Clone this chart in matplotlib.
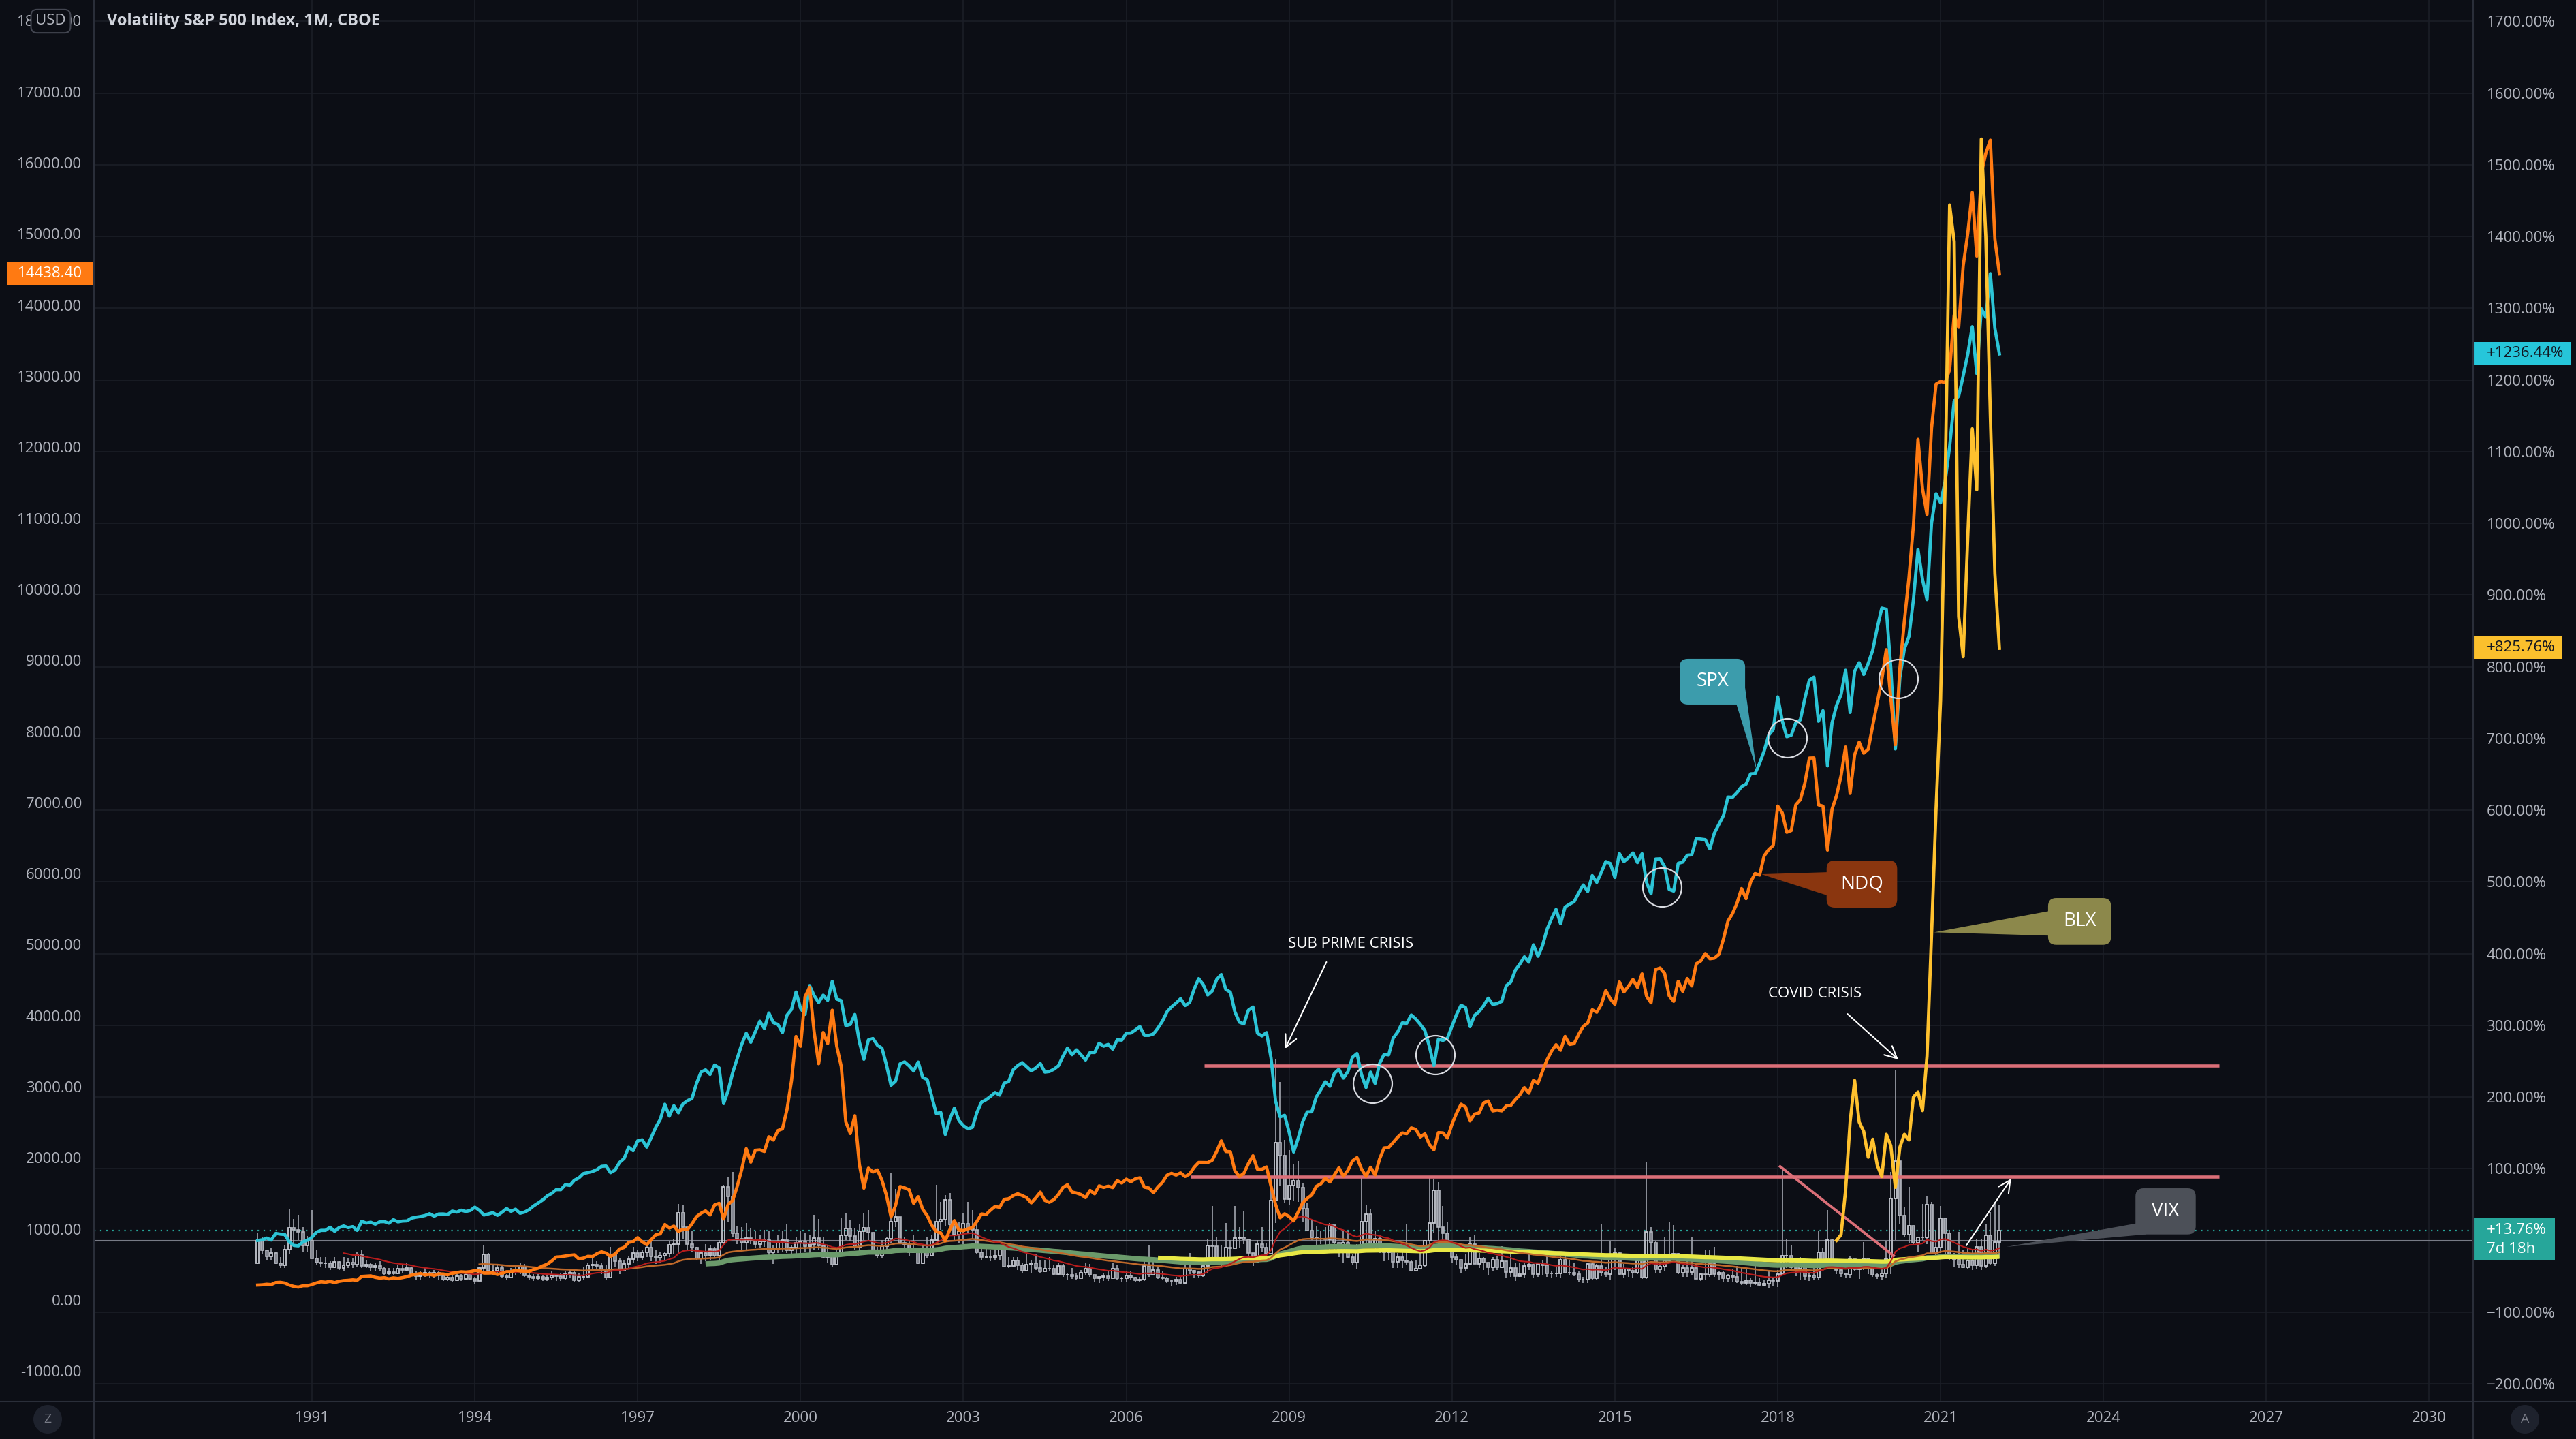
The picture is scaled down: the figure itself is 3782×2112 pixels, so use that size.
import numpy as np
import matplotlib
matplotlib.use("Agg")
import matplotlib.pyplot as plt
from matplotlib.patches import FancyBboxPatch, Polygon, Rectangle, Ellipse
from matplotlib.lines import Line2D
from matplotlib.transforms import blended_transform_factory

plt.rcParams['font.family'] = ['Open Sans', 'DejaVu Sans']

# ---- monthly data, Jan 1990 .. Feb 2022 ----
vix_first_open = 17.24
vix_close = [
    25.36, 21.99, 19.73, 21.00, 17.37, 16.66, 22.16, 29.90, 29.11, 28.37, 23.49, 25.16,
    19.08, 17.58, 17.22, 17.29, 15.76, 17.75, 15.69, 16.66, 17.55, 16.88, 20.08, 16.24,
    16.92, 15.87, 16.27, 15.43, 13.75, 14.12, 13.74, 15.36, 14.96, 15.66, 13.45, 12.62,
    13.33, 13.82, 13.10, 13.87, 12.93, 11.55, 12.14, 11.38, 12.81, 11.79, 13.09, 11.73,
    11.13, 15.66, 20.37, 14.60, 14.68, 15.59, 12.60, 12.31, 14.47, 14.58, 16.01, 12.99,
    12.39, 12.10, 12.55, 11.82, 12.30, 12.90, 12.64, 12.06, 13.37, 13.89, 11.28, 12.52,
    12.53, 16.46, 16.89, 16.37, 14.76, 12.30, 20.35, 18.11, 14.59, 17.03, 18.65, 20.92,
    19.45, 21.04, 22.93, 19.73, 19.25, 19.92, 20.78, 23.91, 23.98, 35.09, 29.98, 24.01,
    22.77, 19.03, 20.81, 19.98, 22.41, 19.93, 24.58, 44.28, 40.95, 28.00, 26.01, 24.42,
    26.25, 25.44, 24.09, 25.07, 25.39, 21.09, 22.37, 24.45, 25.41, 21.98, 22.76, 24.64,
    24.95, 23.37, 24.11, 26.20, 23.65, 19.54, 20.74, 16.84, 20.57, 27.06, 29.66, 26.85,
    23.15, 28.67, 29.92, 28.09, 21.73, 19.96, 23.25, 25.91, 31.93, 33.56, 24.54, 23.80,
    21.09, 21.59, 17.40, 21.91, 19.98, 25.40, 32.03, 32.64, 39.69, 31.07, 27.50, 28.62,
    31.17, 29.63, 29.15, 21.21, 19.47, 19.52, 19.49, 19.97, 22.72, 16.10, 16.32, 18.31,
    16.63, 14.55, 16.74, 17.19, 15.50, 14.34, 15.32, 15.29, 13.34, 16.27, 13.24, 13.29,
    12.82, 12.08, 14.02, 15.31, 13.29, 12.04, 12.44, 12.60, 11.92, 15.32, 12.06, 12.07,
    12.95, 12.34, 11.39, 11.59, 16.44, 13.08, 14.95, 12.31, 11.98, 11.10, 10.91, 11.56,
    10.42, 15.42, 14.64, 14.22, 13.05, 16.23, 23.52, 23.38, 18.00, 18.53, 22.87, 22.50,
    26.20, 26.54, 25.61, 20.79, 17.83, 23.95, 22.94, 20.65, 39.39, 59.89, 55.28, 40.00,
    44.84, 46.35, 44.14, 36.50, 28.92, 26.35, 25.92, 26.01, 25.61, 30.69, 24.51, 21.68,
    24.62, 19.50, 17.59, 22.05, 32.07, 34.54, 23.50, 26.05, 23.70, 21.20, 23.54, 17.75,
    19.53, 18.35, 17.74, 14.75, 15.45, 16.52, 25.25, 31.62, 42.96, 29.96, 27.80, 23.40,
    19.44, 18.43, 15.50, 17.15, 24.06, 17.08, 18.93, 17.47, 15.73, 18.60, 15.87, 18.02,
    14.28, 15.51, 12.70, 13.52, 16.30, 16.86, 13.45, 17.01, 16.60, 13.75, 13.70, 13.72,
    18.41, 14.00, 13.88, 13.41, 11.40, 11.57, 16.95, 12.09, 16.31, 14.03, 13.33, 19.20,
    20.97, 13.34, 15.29, 14.55, 13.84, 18.23, 12.12, 28.43, 24.50, 15.07, 16.13, 18.21,
    20.20, 20.55, 13.95, 15.70, 14.19, 15.63, 11.87, 13.42, 13.29, 17.06, 13.33, 14.04,
    11.99, 12.92, 12.37, 10.82, 10.41, 11.18, 10.26, 10.59, 9.51, 10.18, 11.28, 11.04,
    13.54, 19.85, 19.97, 15.93, 15.43, 16.09, 12.83, 12.86, 12.12, 21.23, 18.07, 25.42,
    16.57, 14.78, 13.71, 13.12, 18.71, 15.08, 16.12, 18.98, 16.24, 13.22, 12.62, 13.78,
    18.84, 40.11, 53.54, 34.15, 27.51, 30.43, 24.46, 26.41, 26.37, 38.02, 20.57, 22.75,
    33.09, 27.95, 19.40, 18.61, 16.76, 15.83, 18.24, 16.48, 23.14, 16.26, 27.19, 17.22,
    24.83, 28.85]
vix_high = [
    28.0, 26.5, 22.0, 22.5, 21.5, 19.5, 23.5, 36.5, 33.0, 34.5, 30.0, 27.0,
    36.2, 22.0, 19.5, 19.5, 18.0, 19.5, 18.0, 19.5, 19.0, 19.0, 21.5, 22.0,
    18.5, 17.5, 17.5, 18.0, 16.0, 15.5, 15.5, 16.5, 17.0, 17.5, 16.0, 14.5,
    14.5, 16.0, 14.5, 15.0, 14.5, 13.5, 13.5, 13.0, 13.5, 13.5, 14.0, 14.0,
    12.5, 16.0, 23.9, 21.0, 16.5, 16.5, 16.5, 13.5, 15.5, 16.5, 17.5, 17.0,
    14.5, 13.5, 13.5, 13.0, 13.5, 14.5, 13.5, 14.0, 14.5, 15.0, 14.5, 14.0,
    16.0, 17.5, 19.5, 18.0, 17.5, 16.5, 23.0, 21.0, 19.0, 18.5, 20.0, 23.0,
    22.0, 22.0, 24.5, 25.5, 22.0, 21.5, 21.5, 25.0, 26.0, 38.2, 38.0, 29.0,
    28.5, 23.0, 21.5, 24.0, 23.5, 23.0, 25.5, 45.0, 48.0, 49.5, 30.5, 30.0,
    31.5, 29.5, 28.5, 27.5, 29.0, 28.5, 23.5, 27.5, 28.5, 31.0, 23.5, 26.5,
    28.5, 28.0, 27.5, 34.3, 33.0, 26.5, 23.5, 20.5, 22.5, 33.5, 35.0, 32.5,
    29.5, 31.0, 35.0, 36.0, 28.0, 23.0, 25.5, 26.5, 49.4, 43.5, 33.5, 26.5,
    25.0, 27.5, 22.5, 24.0, 26.5, 27.5, 45.1, 39.0, 41.5, 42.1, 33.0, 32.0,
    35.0, 39.0, 36.0, 31.0, 24.0, 23.0, 22.0, 22.5, 23.5, 22.5, 19.5, 19.5,
    19.5, 17.5, 21.5, 18.5, 20.5, 18.5, 18.5, 19.5, 16.5, 17.5, 17.0, 14.0,
    15.5, 14.0, 15.0, 17.5, 17.0, 13.0, 12.0, 14.0, 14.5, 17.3, 16.5, 12.5,
    14.5, 14.5, 12.5, 12.5, 18.5, 23.8, 18.5, 16.0, 14.5, 12.5, 11.5, 12.5,
    12.5, 18.5, 21.0, 15.0, 14.5, 17.0, 26.0, 37.5, 26.5, 23.5, 31.5, 25.5,
    37.6, 30.0, 35.5, 26.0, 21.0, 25.5, 30.0, 24.5, 48.0, 89.5, 81.5, 61.0,
    57.4, 52.5, 53.5, 45.5, 38.5, 32.5, 30.5, 28.5, 30.0, 31.5, 30.5, 24.5,
    29.0, 28.5, 20.5, 24.0, 48.2, 38.0, 36.5, 28.5, 27.5, 24.5, 24.5, 22.0,
    21.0, 22.0, 31.3, 18.5, 18.5, 23.0, 25.5, 48.0, 46.9, 46.0, 37.5, 32.0,
    23.5, 20.5, 17.5, 20.5, 26.7, 27.5, 21.0, 19.5, 17.0, 19.5, 20.0, 23.2,
    16.5, 21.5, 17.5, 17.5, 17.5, 21.9, 17.0, 17.5, 18.5, 21.3, 14.5, 16.5,
    21.5, 21.5, 18.2, 17.5, 14.5, 12.5, 17.5, 17.5, 17.0, 31.1, 16.0, 25.2,
    22.5, 21.5, 17.0, 15.6, 16.0, 19.3, 19.5, 53.3, 30.0, 25.0, 17.5, 26.8,
    32.1, 30.9, 21.0, 16.5, 19.5, 26.7, 17.0, 14.0, 22.0, 22.0, 23.0, 14.5,
    14.3, 13.5, 15.2, 16.3, 15.6, 15.2, 12.0, 17.3, 12.0, 11.2, 14.5, 12.1,
    15.0, 50.3, 26.0, 23.5, 18.8, 19.5, 16.0, 14.0, 15.5, 28.8, 22.5, 36.2,
    26.0, 18.5, 16.0, 13.5, 20.0, 18.5, 17.5, 24.8, 18.0, 17.5, 14.0, 17.0,
    25.0, 49.5, 85.5, 46.5, 37.0, 44.4, 30.0, 26.0, 38.3, 41.2, 39.0, 28.5,
    37.5, 31.0, 29.2, 21.0, 28.4, 21.8, 22.8, 22.0, 26.0, 26.0, 31.1, 35.3,
    38.9, 37.8]
vix_low = [
    17.2, 20.5, 18.5, 18.5, 17.0, 15.5, 15.5, 20.5, 24.5, 25.5, 21.5, 21.5,
    19.0, 16.5, 16.0, 15.5, 15.0, 15.5, 15.0, 14.5, 15.5, 15.5, 16.0, 15.5,
    15.5, 14.5, 14.5, 14.5, 13.0, 13.0, 13.0, 13.5, 14.0, 14.5, 13.0, 11.5,
    11.5, 12.5, 12.0, 12.0, 11.5, 11.0, 11.0, 10.5, 11.0, 11.0, 11.5, 11.5,
    9.9, 11.0, 13.5, 14.0, 13.0, 13.5, 12.0, 11.5, 12.0, 13.0, 13.5, 12.5,
    11.5, 11.0, 11.5, 11.0, 11.0, 11.5, 11.0, 11.0, 11.5, 12.0, 10.5, 10.5,
    11.5, 12.0, 15.0, 14.5, 13.5, 11.5, 12.0, 16.0, 13.5, 14.5, 15.5, 17.5,
    18.0, 18.5, 19.5, 18.0, 17.0, 17.5, 18.0, 19.5, 20.5, 20.5, 26.0, 22.0,
    21.5, 18.5, 17.0, 18.0, 18.5, 19.0, 16.5, 24.0, 32.0, 26.5, 24.0, 22.0,
    22.0, 24.0, 22.5, 22.5, 23.0, 20.0, 17.0, 21.0, 21.5, 21.0, 20.0, 20.5,
    19.5, 21.5, 20.5, 22.0, 22.0, 19.0, 17.5, 16.0, 17.0, 20.0, 25.5, 25.0,
    22.0, 21.5, 25.5, 25.0, 21.0, 19.0, 19.0, 21.0, 24.5, 30.0, 24.0, 22.0,
    20.0, 21.0, 17.0, 17.0, 19.0, 20.5, 25.5, 29.0, 30.5, 29.5, 25.5, 24.5,
    24.0, 28.0, 26.0, 20.5, 18.5, 19.0, 18.0, 18.5, 18.5, 16.0, 15.5, 16.0,
    15.0, 14.0, 14.5, 14.0, 15.0, 14.0, 14.5, 14.5, 13.0, 13.0, 12.5, 11.2,
    11.8, 11.5, 12.0, 13.0, 12.5, 10.5, 10.3, 11.0, 11.0, 12.5, 11.5, 10.8,
    10.5, 11.5, 10.5, 10.6, 11.0, 12.5, 13.0, 11.8, 11.2, 10.2, 9.4, 9.7,
    9.9, 9.9, 13.5, 12.0, 12.0, 12.5, 14.0, 18.5, 16.5, 15.5, 17.5, 18.0,
    22.5, 22.5, 24.0, 19.0, 16.3, 17.5, 21.5, 18.8, 21.0, 31.5, 44.5, 38.5,
    38.0, 39.5, 39.0, 32.0, 28.5, 25.5, 23.0, 24.0, 23.0, 21.5, 21.5, 19.5,
    17.5, 19.0, 16.5, 15.2, 21.5, 23.0, 22.5, 22.0, 21.0, 18.0, 18.5, 15.5,
    15.5, 15.5, 16.5, 14.3, 14.5, 15.5, 16.0, 23.0, 28.0, 24.0, 23.0, 21.5,
    17.5, 16.8, 13.7, 14.5, 16.5, 17.0, 15.5, 15.0, 13.3, 14.5, 15.0, 15.5,
    12.3, 12.5, 11.1, 12.5, 12.3, 15.0, 12.0, 12.5, 13.3, 12.5, 12.3, 12.4,
    12.2, 13.6, 13.2, 12.6, 10.7, 10.3, 10.3, 11.6, 11.4, 12.6, 12.4, 11.5,
    15.0, 13.0, 12.3, 12.5, 11.9, 13.5, 11.8, 11.8, 20.5, 14.0, 14.0, 14.5,
    17.5, 19.0, 13.5, 12.5, 12.5, 13.0, 11.8, 11.0, 11.5, 12.5, 12.5, 11.5,
    10.6, 10.9, 10.6, 10.4, 9.6, 9.6, 8.8, 9.5, 9.3, 9.2, 8.6, 9.0,
    8.9, 13.5, 15.5, 15.0, 12.6, 11.6, 11.5, 11.0, 11.3, 11.3, 16.5, 15.5,
    16.0, 13.5, 12.5, 11.9, 12.3, 14.5, 11.7, 15.0, 13.5, 12.5, 11.7, 11.6,
    12.1, 13.4, 25.5, 31.0, 26.5, 24.5, 23.5, 21.5, 25.5, 24.0, 20.5, 19.5,
    21.0, 19.0, 18.5, 16.0, 15.5, 15.5, 15.3, 15.0, 15.2, 15.0, 15.5, 16.5,
    16.3, 19.0]
spx_close = [
    329.08, 331.89, 339.94, 330.80, 361.23, 358.02, 356.15, 322.56, 306.05, 304.00, 322.22, 330.22,
    343.93, 367.07, 375.22, 375.34, 389.83, 371.16, 387.81, 395.43, 387.86, 392.46, 375.22, 417.09,
    408.79, 412.70, 403.69, 414.95, 415.35, 408.14, 424.21, 414.03, 417.80, 418.68, 431.35, 435.71,
    438.78, 443.38, 451.67, 440.19, 450.19, 450.53, 448.13, 463.56, 458.93, 467.83, 461.79, 466.45,
    481.61, 467.14, 445.77, 450.91, 456.50, 444.27, 458.26, 475.49, 462.69, 472.35, 453.69, 459.27,
    470.42, 487.39, 500.71, 514.71, 533.40, 544.75, 562.06, 561.88, 584.41, 581.50, 605.37, 615.93,
    636.02, 640.43, 645.50, 654.17, 669.12, 670.63, 639.95, 651.99, 687.31, 705.27, 757.02, 740.74,
    786.16, 790.82, 757.12, 801.34, 848.28, 885.14, 954.29, 899.47, 947.28, 914.62, 955.40, 970.43,
    980.28, 1049.34, 1101.75, 1111.75, 1090.82, 1133.84, 1120.67, 957.28, 1017.01, 1098.67, 1163.63, 1229.23,
    1279.64, 1238.33, 1286.37, 1335.18, 1301.84, 1372.71, 1328.72, 1320.41, 1282.71, 1362.93, 1388.91, 1469.25,
    1394.46, 1366.42, 1498.58, 1452.43, 1420.60, 1454.60, 1430.83, 1517.68, 1436.51, 1429.40, 1314.95, 1320.28,
    1366.01, 1239.94, 1160.33, 1249.46, 1255.82, 1224.42, 1211.23, 1133.58, 1040.94, 1059.78, 1139.45, 1148.08,
    1130.20, 1106.73, 1147.39, 1076.92, 1067.14, 989.82, 911.62, 916.07, 815.28, 885.76, 936.31, 879.82,
    855.70, 841.15, 848.18, 916.92, 963.59, 974.50, 990.31, 1008.01, 995.97, 1050.71, 1058.20, 1111.92,
    1131.13, 1144.94, 1126.21, 1107.30, 1120.68, 1140.84, 1101.72, 1104.24, 1114.58, 1130.20, 1173.82, 1211.92,
    1181.27, 1203.60, 1180.59, 1156.85, 1191.50, 1191.33, 1234.18, 1220.33, 1228.81, 1207.01, 1249.48, 1248.29,
    1280.08, 1280.66, 1294.83, 1310.61, 1270.09, 1270.20, 1276.66, 1303.82, 1335.85, 1377.94, 1400.63, 1418.30,
    1438.24, 1406.82, 1420.86, 1482.37, 1530.62, 1503.35, 1455.27, 1473.99, 1526.75, 1549.38, 1481.14, 1468.36,
    1378.55, 1330.63, 1322.70, 1385.59, 1400.38, 1280.00, 1267.38, 1282.83, 1166.36, 968.75, 896.24, 903.25,
    825.88, 735.09, 797.87, 872.81, 919.14, 919.32, 987.48, 1020.62, 1057.08, 1036.19, 1095.63, 1115.10,
    1073.87, 1104.49, 1169.43, 1186.69, 1089.41, 1030.71, 1101.60, 1049.33, 1141.20, 1183.26, 1180.55, 1257.64,
    1286.12, 1327.22, 1325.83, 1363.61, 1345.20, 1320.64, 1292.28, 1218.89, 1131.42, 1253.30, 1246.96, 1257.60,
    1312.41, 1365.68, 1408.47, 1397.91, 1310.33, 1362.16, 1379.32, 1406.58, 1440.67, 1412.16, 1416.18, 1426.19,
    1498.11, 1514.68, 1569.19, 1597.57, 1630.74, 1606.28, 1685.73, 1632.97, 1681.55, 1756.54, 1805.81, 1848.36,
    1782.59, 1859.45, 1872.34, 1883.95, 1923.57, 1960.23, 1930.67, 2003.37, 1972.29, 2018.05, 2067.56, 2058.90,
    1994.99, 2104.50, 2067.89, 2085.51, 2107.39, 2063.11, 2103.84, 1972.18, 1920.03, 2079.36, 2080.41, 2043.94,
    1940.24, 1932.23, 2059.74, 2065.30, 2096.95, 2098.86, 2173.60, 2170.95, 2168.27, 2126.15, 2198.81, 2238.83,
    2278.87, 2363.64, 2362.72, 2384.20, 2411.80, 2423.41, 2470.30, 2471.65, 2519.36, 2575.26, 2647.58, 2673.61,
    2823.81, 2713.83, 2640.87, 2648.05, 2705.27, 2718.37, 2816.29, 2901.52, 2913.98, 2711.74, 2760.17, 2506.85,
    2704.10, 2784.49, 2834.40, 2945.83, 2752.06, 2941.76, 2980.38, 2926.46, 2976.74, 3037.56, 3140.98, 3230.78,
    3225.52, 2954.22, 2584.59, 2912.43, 3044.31, 3100.29, 3271.12, 3500.31, 3363.00, 3269.96, 3621.63, 3756.07,
    3714.24, 3811.15, 3972.89, 4181.17, 4204.11, 4297.50, 4395.26, 4522.68, 4307.54, 4605.38, 4567.00, 4766.18,
    4515.55, 4398.00]
ndq_close = [
    210, 213, 221, 216, 245, 248, 238, 209, 190, 181, 200, 200,
    218, 240, 256, 249, 262, 244, 262, 272, 276, 283, 277, 331,
    335, 339, 318, 307, 313, 297, 311, 302, 314, 328, 350, 361,
    371, 352, 361, 345, 366, 365, 355, 375, 386, 396, 392, 398,
    414, 408, 378, 378, 380, 358, 375, 397, 397, 419, 408, 404,
    403, 430, 447, 479, 503, 549, 604, 608, 618, 628, 635, 577,
    588, 614, 610, 651, 677, 660, 613, 645, 718, 739, 810, 821,
    877, 818, 778, 848, 918, 930, 1062, 1012, 1039, 965, 993, 990,
    1071, 1172, 1220, 1253, 1195, 1337, 1360, 1140, 1345, 1400, 1598, 1836,
    2128, 1939, 2106, 2112, 2089, 2296, 2250, 2384, 2408, 2680, 3085, 3708,
    3570, 4267, 4398, 3773, 3324, 3764, 3609, 4077, 3571, 3283, 2507, 2341,
    2593, 1908, 1573, 1855, 1800, 1830, 1683, 1469, 1168, 1329, 1596, 1577,
    1550, 1359, 1453, 1277, 1186, 1051, 963, 943, 833, 989, 1117, 984,
    976, 1002, 1018, 1106, 1210, 1201, 1264, 1316, 1303, 1415, 1424, 1468,
    1494, 1469, 1438, 1366, 1437, 1517, 1401, 1374, 1412, 1485, 1582, 1621,
    1519, 1505, 1483, 1440, 1542, 1493, 1605, 1583, 1601, 1581, 1679, 1645,
    1700, 1662, 1704, 1719, 1587, 1575, 1509, 1591, 1655, 1755, 1782, 1757,
    1788, 1737, 1772, 1867, 1935, 1934, 1933, 1966, 2091, 2239, 2089, 2085,
    1817, 1736, 1782, 1919, 2029, 1838, 1839, 1872, 1599, 1344, 1157, 1212,
    1173, 1112, 1237, 1368, 1429, 1477, 1598, 1633, 1712, 1658, 1760, 1860,
    1742, 1825, 1957, 2003, 1842, 1739, 1867, 1758, 1985, 2140, 2144, 2218,
    2291, 2350, 2339, 2421, 2400, 2293, 2338, 2189, 2112, 2355, 2351, 2278,
    2474, 2628, 2755, 2715, 2519, 2616, 2632, 2773, 2800, 2660, 2672, 2661,
    2731, 2739, 2818, 2887, 2988, 2910, 3090, 3049, 3219, 3378, 3500, 3592,
    3513, 3709, 3596, 3607, 3737, 3850, 3896, 4083, 4049, 4159, 4354, 4236,
    4159, 4475, 4334, 4415, 4509, 4397, 4589, 4275, 4181, 4648, 4672, 4594,
    4280, 4202, 4484, 4342, 4523, 4418, 4731, 4771, 4875, 4801, 4810, 4863,
    5078, 5331, 5436, 5584, 5789, 5647, 5880, 6000, 5979, 6249, 6337, 6396,
    6950, 6854, 6581, 6606, 6968, 7040, 7272, 7625, 7627, 6967, 6949, 6330,
    6906, 7097, 7378, 7781, 7128, 7671, 7848, 7693, 7749, 8084, 8404, 8733,
    9151, 8462, 7813, 8889, 9556, 10157, 10905, 12110, 11418, 11052, 12268, 12888,
    12925, 12909, 13091, 13860, 13687, 14554, 15005, 15582, 14689, 15850, 16136, 16320,
    14930, 14438.40]
# BLX compare line, % change, Feb 2019 .. Feb 2022
blx_pct = [
    0, 8, 70, 165, 223, 165, 152, 116, 141, 105, 89,
    148, 132, 74, 130, 148, 140, 200, 207, 181, 257, 426, 602,
    753, 1054, 1444, 1393, 870, 814, 980, 1132, 1047, 1536, 1400, 1150,
    930, 825.76]
blx_start = 2019 + 1 / 12

vix_base = 25.36
spx_base = 329.08

year_ticks = list(range(1991, 2031, 3))
pct_ticks = list(range(-200, 1701, 100))
usd_ticks = list(range(-1000, 18001, 1000))

BG = '#0C0E15'
GRID = '#1B1E27'
SEP = '#2A2E39'
TXT = '#B2B5BE'
FS = 16

W, H = 3782, 2112
L, R, B = 138, 3631, 2057
fig = plt.figure(figsize=(W / 100, H / 100), dpi=100, facecolor=BG)
ax = fig.add_axes([L / W, (H - B) / H, (R - L) / W, B / H])
ax.set_facecolor(BG)
ax2 = ax.twinx()
ax.yaxis.tick_right()
ax2.yaxis.tick_left()

ax.set_xlim(1986.985, 2030.81)
ax.set_ylim(-224.7, 1729.9)
ax2.set_ylim(-1429.5, 18292.4)

for a in (ax, ax2):
    for s in a.spines.values():
        s.set_visible(False)

ax.set_xticks(year_ticks)
ax.set_xticklabels([str(y) for y in year_ticks])
ax.set_yticks(pct_ticks)
# the 0% label sits under the last-value tag, so it is left blank
ax.set_yticklabels(['' if v == 0 else f"{v:.2f}%".replace('-', '\u2212') for v in pct_ticks])
ax2.set_yticks(usd_ticks)
ax2.set_yticklabels([f"{v:.2f}" for v in usd_ticks])
ax.tick_params(axis='x', length=0, pad=10, labelsize=FS, labelcolor=TXT)
ax.tick_params(axis='y', length=0, pad=14, labelsize=FS, labelcolor=TXT)
ax2.tick_params(axis='y', length=0, pad=13, labelsize=FS, labelcolor=TXT)
ax.grid(True, color=GRID, lw=1.2)
ax.set_axisbelow(True)

# baselines
ax.axhline(0, color='#787B86', lw=1.5, zorder=1.5)
ax.axhline(13.76, color='#26A69A', lw=1.6, ls=(0, (1, 3)), zorder=1.6)

# VIX candles in percent of first close
t = 1990 + np.arange(len(vix_close)) / 12
vc = np.array(vix_close)
vo = np.r_[vix_first_open, vc[:-1]]


def pct(a):
    return (np.asarray(a, dtype=float) / vix_base - 1) * 100


po, pc, ph, pl = pct(vo), pct(vc), pct(vix_high), pct(vix_low)
top = np.maximum(po, pc)
bot = np.minimum(po, pc)
ph = np.maximum(ph, top)
pl = np.minimum(pl, bot)
up = pc >= po
ax.vlines(t, top, ph, color='#A3A6AF', lw=1.2, zorder=2)
ax.vlines(t, pl, bot, color='#A3A6AF', lw=1.2, zorder=2)
ax.bar(t[up], (top - bot)[up], bottom=bot[up], width=0.05, fill=False,
       edgecolor='#C3C6CF', linewidth=1.3, zorder=2.1)
ax.bar(t[~up], (top - bot)[~up], bottom=bot[~up], width=0.05,
       facecolor='#868993', edgecolor='#B2B5BE', linewidth=1.2, zorder=2.1)


def ema(x, n):
    out = np.full(len(x), np.nan)
    k = 2 / (n + 1)
    out[n - 1] = x[:n].mean()
    for i in range(n, len(x)):
        out[i] = k * x[i] + (1 - k) * out[i - 1]
    return out


ax.plot(t, ema(pc, 100), color='#6B9A6B', lw=5.5, zorder=3.0, solid_capstyle='butt')
ax.plot(t, ema(pc, 200), color='#E8E845', lw=4.5, zorder=3.1, solid_capstyle='butt')
ax.plot(t, ema(pc, 50), color='#C0692A', lw=1.8, zorder=3.2)
ax.plot(t, ema(pc, 20), color='#B71C1C', lw=1.5, zorder=3.3)

# drawn levels
PINK = '#DB6F78'
ax.hlines([243.7, 88.4], [2007.44, 2007.19], 2026.13, color=PINK, lw=3.3, zorder=4)
ax.plot([2018.045, 2020.134], [103.1, -21.4], color=PINK, lw=2.8, zorder=4)

# compare series
spx_pct = (np.array(spx_close) / spx_base - 1) * 100
ax.plot(t, spx_pct, color='#2CC4D6', lw=3.4, zorder=5, solid_joinstyle='round')
ax.plot(t, ndq_close, color='#FF7A12', lw=3.4, zorder=6, solid_joinstyle='round',
        transform=ax2.transData)
t_blx = blx_start + np.arange(len(blx_pct)) / 12
ax.plot(t_blx, blx_pct, color='#FFC12E', lw=3.4, zorder=7, solid_joinstyle='round')

# circles on dips
circ_x = [2010.54, 2011.69, 2015.87, 2018.18, 2020.22]
circ_y = [219.3, 259.3, 492.5, 700.6, 783.7]
ax.plot(circ_x, circ_y, 'o', ms=41, mfc='none', mec='#D8DAE0', mew=1.6, zorder=9, ls='none')

# crisis notes
ax.text(2010.13, 413, 'SUB PRIME CRISIS', color='white', fontsize=16, ha='center', va='center', zorder=9)
ax.text(2018.69, 343.6, 'COVID CRISIS', color='white', fontsize=16, ha='center', va='center', zorder=9)
arrow = dict(arrowstyle='->,head_length=0.7,head_width=0.35', color='white', lw=1.5,
             mutation_scale=18, shrinkA=0, shrinkB=0)
ax.annotate('', xy=(2008.926, 267.5), xytext=(2009.687, 388.2), arrowprops=arrow, zorder=9)
ax.annotate('', xy=(2020.219, 252.3), xytext=(2019.285, 315.9), arrowprops=arrow, zorder=9)
ax.annotate('', xy=(2022.30, 86.0), xytext=(2021.474, -7.1), arrowprops=arrow, zorder=9)


def callout(label, box, tail, color):
    x0, x1, y0, y1 = box
    ax.add_patch(Polygon(tail, closed=True, fc=color, ec='none', zorder=10))
    ax.add_patch(FancyBboxPatch((x0, y0), x1 - x0, y1 - y0,
                                boxstyle='round,pad=0,rounding_size=0.15',
                                mutation_aspect=76, fc=color, ec='none', zorder=10))
    ax.text((x0 + x1) / 2, (y0 + y1) / 2, label, color='white', fontsize=20,
            ha='center', va='center', zorder=11)


callout('SPX', (2016.194, 2017.399, 747.4, 811.1),
        [(2017.19, 760), (2017.40, 770), (2017.61, 656.2)], '#3C9CAC')
callout('NDQ', (2018.90, 2020.20, 464.2, 529.7),
        [(2018.95, 513.6), (2017.70, 510.7), (2018.95, 480.3)], '#8A360F')
callout('BLX', (2022.98, 2024.14, 412.2, 477.5),
        [(2023.03, 459.7), (2020.88, 429.7), (2023.03, 425.0)], '#8C884B')
callout('VIX', (2024.59, 2025.70, 8.4, 72.7),
        [(2024.64, 24.2), (2022.21, -9.0), (2024.78, 8.4)], '#4C5058')

# price labels on the scales
rb = blended_transform_factory(ax.transAxes, ax.transData)
for y0, y1, x1, fc, tc, txt in [(1221.8, 1253.2, 1.041, '#26C6DA', '#131722', '+1236.44%'),
                                (811.0, 842.4, 1.0375, '#FBC02D', '#131722', '+825.76%')]:
    ax.add_patch(Rectangle((1.0, y0), x1 - 1.0, y1 - y0, transform=rb, fc=fc, ec='none',
                           clip_on=False, zorder=12))
    ax.text(1.0057, (y0 + y1) / 2, txt, transform=rb, color=tc, fontsize=FS,
            ha='left', va='center', clip_on=False, zorder=13)
ax.add_patch(Rectangle((1.0, -27.9), 0.0344, 58.8, transform=rb, fc='#26A69A', ec='none',
                       clip_on=False, zorder=12))
ax.text(1.0057, 14.7, '+13.76%', transform=rb, color='white', fontsize=FS,
        ha='left', va='center', clip_on=False, zorder=13)
ax.text(1.0057, -11.9, '7d 18h', transform=rb, color='white', fontsize=FS,
        ha='left', va='center', clip_on=False, zorder=13)

lb = blended_transform_factory(ax2.transAxes, ax2.transData)
ax2.add_patch(Rectangle((-0.0366, 14438.4 - 163), 0.0366, 326, transform=lb, fc='#FF7A12',
                        ec='none', clip_on=False, zorder=12))
ax2.text(-0.0186, 14438.4, '14438.40', transform=lb, color='white', fontsize=FS,
         ha='center', va='center', clip_on=False, zorder=13)

# panel separators
fig.add_artist(Line2D([L / W, L / W], [0, 1], color=SEP, lw=1.5))
fig.add_artist(Line2D([R / W, R / W], [0, 1], color=SEP, lw=1.5))
fig.add_artist(Line2D([0, 1], [(H - B) / H, (H - B) / H], color=SEP, lw=1.5))

# corner buttons
for cx, ch in [(70, 'Z'), (3707, 'A')]:
    fig.add_artist(Ellipse((cx / W, 1 - 2083 / H), 42 / W, 42 / H, fc='#1E222D', ec='none'))
    fig.text(cx / W, 1 - 2083 / H, ch, color='#787B86', fontsize=14, ha='center', va='center')

# header
fig.text(157 / W, 1 - 31 / H, 'Volatility S&P 500 Index, 1M, CBOE', color='#D1D4DC',
         fontsize=17, fontweight='bold', ha='left', va='center')
fig.text(74.5 / W, 1 - 31 / H, 'USD', color=TXT, fontsize=FS, ha='center', va='center', zorder=20,
         bbox=dict(boxstyle='round,pad=0.3,rounding_size=0.4', fc=BG, ec='#434651', lw=1.5))

fig.savefig('out.png', dpi=100, facecolor=BG)
